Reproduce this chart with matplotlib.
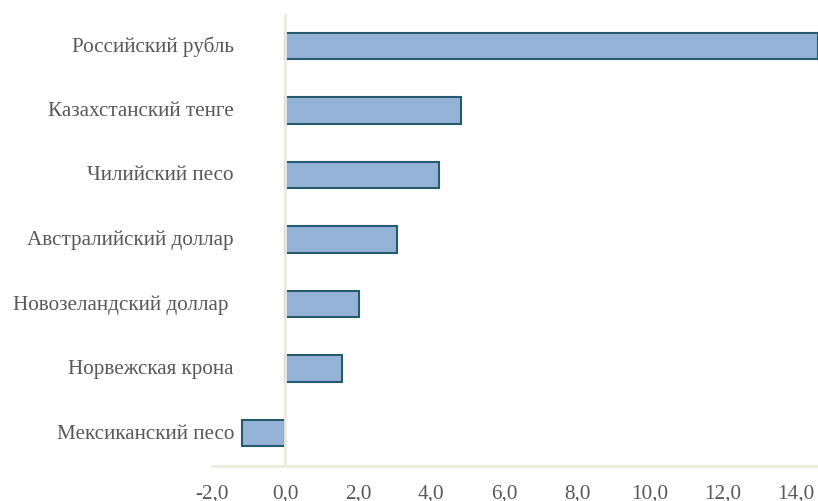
import matplotlib.pyplot as plt
import numpy as np

plt.rcParams['font.family'] = ['Liberation Serif', 'DejaVu Serif']

# currency changes, top to bottom
currencies = ['Российский рубль', 'Казахстанский тенге', 'Чилийский песо',
              'Австралийский доллар', 'Новозеландский доллар ', 'Норвежская крона',
              'Мексиканский песо']
values = [14.6, 4.81, 4.23, 3.07, 2.02, 1.55, -1.18]
x_ticks = [-2, 0, 2, 4, 6, 8, 10, 12, 14]

text_color = '#595959'
axis_color = '#EEEADF'

fig = plt.figure(figsize=(8.18, 5.02), dpi=100)
ax = fig.add_axes([212 / 818, 1 - 466.5 / 502, 606 / 818, 452 / 502])

pos = np.arange(len(currencies))
ax.barh(pos, values, height=0.41, color='#95B3D7', edgecolor='#265A6C',
        linewidth=1.5, zorder=2)
ax.axvline(0, color=axis_color, linewidth=2, zorder=3)

ax.set_xlim(-2, 14.6)
ax.set_ylim(len(currencies) - 0.5, -0.5)

for s in ['top', 'right', 'left']:
    ax.spines[s].set_visible(False)
ax.spines['bottom'].set_color(axis_color)
ax.spines['bottom'].set_linewidth(2)

ax.set_yticks([])
ax.set_xticks(x_ticks)
ax.set_xticklabels(['{:.1f}'.format(t).replace('.', ',') for t in x_ticks])
ax.tick_params(axis='x', length=0, pad=13, labelsize=15.2, labelcolor=text_color)

# category labels sit at a fixed spot left of zero
for p, name in zip(pos, currencies):
    ax.text(0.0363, p, name, transform=ax.get_yaxis_transform(), ha='right',
            va='center', fontsize=15.2, color=text_color, clip_on=False)

fig.savefig('out.png', dpi=100)
